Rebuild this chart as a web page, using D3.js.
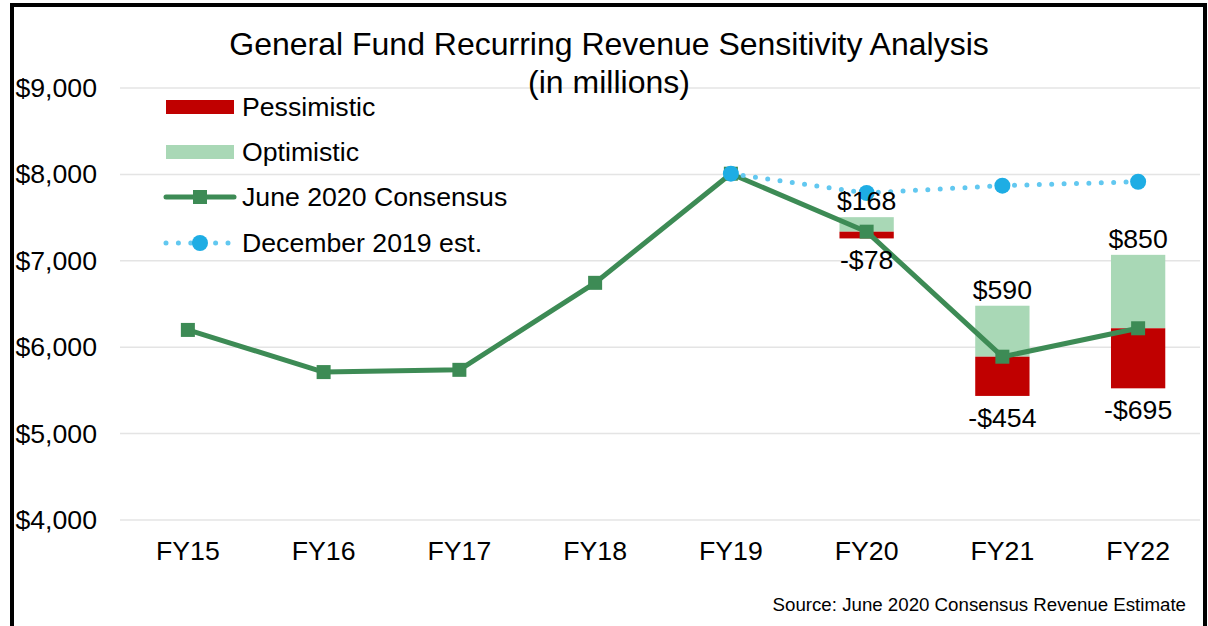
<!DOCTYPE html>
<html>
<head>
<meta charset="utf-8">
<script src="https://cdn.jsdelivr.net/npm/d3@7"></script>
<style>
  html, body { margin: 0; padding: 0; background: #fff; }
  svg { display: block; font-family: "Liberation Sans", Arial, sans-serif; }
</style>
</head>
<body>
<svg id="chart" width="1208" height="626"></svg>
<script>
// Fiscal years on the x axis
const categories = ["FY15", "FY16", "FY17", "FY18", "FY19", "FY20", "FY21", "FY22"];
// June 2020 consensus recurring revenue ($ millions)
const juneConsensus = [6200, 5712, 5738, 6745, 8008, 7337, 5890, 6219];
// December 2019 estimate ($ millions), only forecast years
const dec2019 = [null, null, null, null, 8008, 7785, 7870, 7915];
// Scenario deltas relative to June 2020 consensus
const optimistic = [null, null, null, null, null, 168, 590, 850];
const pessimistic = [null, null, null, null, null, -78, -454, -695];
// Y axis ticks
const yTicks = [4000, 5000, 6000, 7000, 8000, 9000];

const FS = 26.67;
const svg = d3.select("#chart");

const x = d3.scaleBand().domain(categories).range([120, 1206]).padding(0);
const y = d3.scaleLinear().domain([4000, 9000]).range([520, 88]);
const cx = d => x(d) + x.bandwidth() / 2;
const barW = x.bandwidth() * 0.4;

const fmt = v => (v < 0 ? "-$" : "$") + d3.format(",")(Math.abs(v));

// Frame
svg.append("rect")
  .attr("x", 12).attr("y", 5).attr("width", 1193).attr("height", 640)
  .attr("fill", "none").attr("stroke", "#000").attr("stroke-width", 4);

// Gridlines
svg.append("g").selectAll("line").data(yTicks).join("line")
  .attr("x1", 120).attr("x2", 1200)
  .attr("y1", d => y(d)).attr("y2", d => y(d))
  .attr("stroke", "#e4e4e4").attr("stroke-width", 1.5);

// Y axis labels
const yAxis = d3.axisLeft(y).tickValues(yTicks).tickFormat(d => "$" + d3.format(",")(d)).tickSize(0).tickPadding(0);
svg.append("g").attr("transform", "translate(97,0)").call(yAxis)
  .call(g => g.select(".domain").remove())
  .call(g => g.selectAll("text").attr("font-size", FS).attr("fill", "#000")
    .attr("font-family", "Liberation Sans, Arial, sans-serif"));

// X axis labels
const xAxis = d3.axisBottom(x).tickSize(0).tickPadding(0);
svg.append("g").attr("transform", "translate(0,540)").call(xAxis)
  .call(g => g.select(".domain").remove())
  .call(g => g.selectAll("text").attr("font-size", FS).attr("fill", "#000")
    .attr("dy", "0.75em")
    .attr("font-family", "Liberation Sans, Arial, sans-serif"));

// Scenario bars (stacked around the consensus value)
const scen = categories.map((c, i) => ({ c, base: juneConsensus[i], up: optimistic[i], down: pessimistic[i] }))
  .filter(d => d.up != null);

svg.append("g").selectAll("rect").data(scen).join("rect")
  .attr("x", d => cx(d.c) - barW / 2).attr("width", barW)
  .attr("y", d => y(d.base + d.up)).attr("height", d => y(d.base) - y(d.base + d.up))
  .attr("fill", "#a9d8b6");

svg.append("g").selectAll("rect").data(scen).join("rect")
  .attr("x", d => cx(d.c) - barW / 2).attr("width", barW)
  .attr("y", d => y(d.base)).attr("height", d => y(d.base + d.down) - y(d.base))
  .attr("fill", "#c00000");

// June 2020 consensus line
const junePts = categories.map((c, i) => ({ c, v: juneConsensus[i] }));
const line = d3.line().x(d => cx(d.c)).y(d => y(d.v));
svg.append("path").datum(junePts).attr("d", line)
  .attr("fill", "none").attr("stroke", "#3d8b55").attr("stroke-width", 5)
  .attr("stroke-linejoin", "round");
svg.append("g").selectAll("rect").data(junePts).join("rect")
  .attr("x", d => cx(d.c) - 7).attr("y", d => y(d.v) - 7)
  .attr("width", 14).attr("height", 14).attr("fill", "#3d8b55");

// December 2019 estimate (dotted)
const decPts = categories.map((c, i) => ({ c, v: dec2019[i] })).filter(d => d.v != null);
svg.append("path").datum(decPts).attr("d", line)
  .attr("fill", "none").attr("stroke", "#62c8f0").attr("stroke-width", 5)
  .attr("stroke-linecap", "round").attr("stroke-dasharray", "0 12.4");
svg.append("g").selectAll("circle").data(decPts).join("circle")
  .attr("cx", d => cx(d.c)).attr("cy", d => y(d.v)).attr("r", 8)
  .attr("fill", "#1eade4");

// Scenario value labels
const lbl = svg.append("g").attr("font-size", FS).attr("fill", "#000").attr("text-anchor", "middle");
lbl.selectAll("text.up").data(scen).join("text").attr("class", "up")
  .attr("x", d => cx(d.c)).attr("y", d => y(d.base + d.up) - 7)
  .text(d => fmt(d.up));
lbl.selectAll("text.down").data(scen).join("text").attr("class", "down")
  .attr("x", d => cx(d.c)).attr("y", d => y(d.base + d.down) + 31)
  .text(d => fmt(d.down));

// Title
const title = svg.append("text").attr("x", 609).attr("font-size", 32).attr("text-anchor", "middle").attr("fill", "#000");
title.append("tspan").attr("x", 609).attr("y", 55).text("General Fund Recurring Revenue Sensitivity Analysis");
title.append("tspan").attr("x", 609).attr("y", 93).text("(in millions)");

// Legend
const leg = svg.append("g").attr("font-size", FS).attr("fill", "#000");
leg.append("rect").attr("x", 166).attr("y", 100).attr("width", 68).attr("height", 14).attr("fill", "#c00000");
leg.append("text").attr("x", 242).attr("y", 116).text("Pessimistic");
leg.append("rect").attr("x", 166).attr("y", 145).attr("width", 68).attr("height", 14).attr("fill", "#a9d8b6");
leg.append("text").attr("x", 242).attr("y", 161).text("Optimistic");
leg.append("line").attr("x1", 166).attr("x2", 234).attr("y1", 197).attr("y2", 197)
  .attr("stroke", "#3d8b55").attr("stroke-width", 5).attr("stroke-linecap", "round");
leg.append("rect").attr("x", 193).attr("y", 190).attr("width", 14).attr("height", 14).attr("fill", "#3d8b55");
leg.append("text").attr("x", 242).attr("y", 206).text("June 2020 Consensus");
leg.append("line").attr("x1", 166).attr("x2", 234).attr("y1", 243).attr("y2", 243)
  .attr("stroke", "#62c8f0").attr("stroke-width", 5).attr("stroke-linecap", "round")
  .attr("stroke-dasharray", "0 12.4");
leg.append("circle").attr("cx", 200).attr("cy", 243).attr("r", 8).attr("fill", "#1eade4");
leg.append("text").attr("x", 242).attr("y", 252).text("December 2019 est.");

// Source note
svg.append("text").attr("x", 1186).attr("y", 611).attr("text-anchor", "end")
  .attr("font-size", 18.7).attr("fill", "#000")
  .text("Source: June 2020 Consensus Revenue Estimate");
</script>
</body>
</html>
